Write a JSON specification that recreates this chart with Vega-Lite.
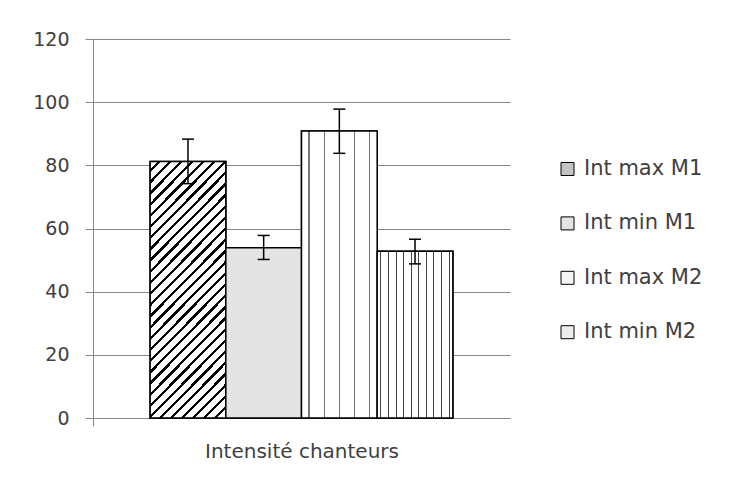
{
  "$schema": "https://vega.github.io/schema/vega-lite/v6.json",
  "width": 417,
  "height": 379,
  "autosize": {"type": "none"},
  "padding": {"left": 93, "top": 39, "right": 235, "bottom": 64},
  "background": "white",
  "config": {"view": {"stroke": null}, "font": "DejaVu Sans"},
  "data": {
    "values": [
      {"cat": "Intensité chanteurs", "series": "Int max M1", "value": 81.2, "lo": 74.2, "hi": 88.3},
      {"cat": "Intensité chanteurs", "series": "Int min M1", "value": 53.9, "lo": 50.2, "hi": 57.8},
      {"cat": "Intensité chanteurs", "series": "Int max M2", "value": 90.9, "lo": 83.8, "hi": 97.8},
      {"cat": "Intensité chanteurs", "series": "Int min M2", "value": 52.8, "lo": 48.8, "hi": 56.6}
    ]
  },
  "encoding": {
    "x": {
      "field": "cat",
      "type": "nominal",
      "scale": {"paddingInner": 0, "paddingOuter": 0},
      "axis": {
        "title": "Intensité chanteurs",
        "labels": false,
        "ticks": true,
        "bandPosition": 0,
        "tickSize": 8,
        "tickColor": "#868686",
        "domainColor": "#868686",
        "titleFont": "DejaVu Sans",
        "titleFontSize": 20,
        "titleFontWeight": "normal",
        "titleColor": "#404040",
        "titlePadding": 15
      }
    },
    "xOffset": {
      "field": "series",
      "type": "nominal",
      "sort": ["Int max M1", "Int min M1", "Int max M2", "Int min M2"],
      "scale": {"paddingInner": 0, "paddingOuter": 0.755}
    },
    "y": {
      "field": "value",
      "type": "quantitative",
      "scale": {"domain": [0, 120], "nice": false},
      "axis": {
        "title": null,
        "values": [0, 20, 40, 60, 80, 100, 120],
        "grid": true,
        "gridColor": "#868686",
        "domainColor": "#868686",
        "tickColor": "#868686",
        "tickSize": 8,
        "labelPadding": 16,
        "labelFont": "DejaVu Sans",
        "labelFontSize": 19,
        "labelColor": "#404040"
      }
    }
  },
  "layer": [
    {
      "mark": {"type": "bar", "stroke": "black", "strokeWidth": 1.5},
      "encoding": {
        "fill": {
          "field": "series",
          "type": "nominal",
          "sort": ["Int max M1", "Int min M1", "Int max M2", "Int min M2"],
          "scale": {
            "domain": ["Int max M1", "Int min M1", "Int max M2", "Int min M2"],
            "range": ["#c4c4c4", "#e4e4e4", "#f6f6f6", "#eeeeee"]
          },
          "legend": {
            "title": null,
            "orient": "none",
            "legendX": 464,
            "legendY": 119.5,
            "padding": 0,
            "symbolType": "square",
            "symbolSize": 169,
            "symbolStrokeColor": "black",
            "symbolStrokeWidth": 1,
            "symbolOpacity": 1,
            "labelFont": "DejaVu Sans",
            "labelFontSize": 21,
            "labelColor": "#404040",
            "labelOffset": 6,
            "rowPadding": 32.4
          }
        }
      }
    },
    {
      "mark": {"type": "bar", "stroke": "black", "strokeWidth": 1.5},
      "encoding": {
        "fill": {
          "condition": [
            {"test": "datum.series === 'Int max M1'", "value": {"gradient": "linear", "x1": 0, "y1": 0, "x2": 0.36, "y2": 1.2, "stops": [
                {"offset": 0, "color": "#fff"}, {"offset": 0.0233, "color": "#fff"}, {"offset": 0.0233, "color": "#000"}, {"offset": 0.0333, "color": "#000"},
                {"offset": 0.0333, "color": "#fff"}, {"offset": 0.0567, "color": "#fff"}, {"offset": 0.0567, "color": "#000"}, {"offset": 0.0667, "color": "#000"},
                {"offset": 0.0667, "color": "#fff"}, {"offset": 0.09, "color": "#fff"}, {"offset": 0.09, "color": "#000"}, {"offset": 0.1, "color": "#000"},
                {"offset": 0.1, "color": "#fff"}, {"offset": 0.1233, "color": "#fff"}, {"offset": 0.1233, "color": "#000"}, {"offset": 0.1333, "color": "#000"},
                {"offset": 0.1333, "color": "#fff"}, {"offset": 0.1567, "color": "#fff"}, {"offset": 0.1567, "color": "#000"}, {"offset": 0.1667, "color": "#000"},
                {"offset": 0.1667, "color": "#fff"}, {"offset": 0.19, "color": "#fff"}, {"offset": 0.19, "color": "#000"}, {"offset": 0.2, "color": "#000"},
                {"offset": 0.2, "color": "#fff"}, {"offset": 0.2233, "color": "#fff"}, {"offset": 0.2233, "color": "#000"}, {"offset": 0.2333, "color": "#000"},
                {"offset": 0.2333, "color": "#fff"}, {"offset": 0.2567, "color": "#fff"}, {"offset": 0.2567, "color": "#000"}, {"offset": 0.2667, "color": "#000"},
                {"offset": 0.2667, "color": "#fff"}, {"offset": 0.29, "color": "#fff"}, {"offset": 0.29, "color": "#000"}, {"offset": 0.3, "color": "#000"},
                {"offset": 0.3, "color": "#fff"}, {"offset": 0.3233, "color": "#fff"}, {"offset": 0.3233, "color": "#000"}, {"offset": 0.3333, "color": "#000"},
                {"offset": 0.3333, "color": "#fff"}, {"offset": 0.3567, "color": "#fff"}, {"offset": 0.3567, "color": "#000"}, {"offset": 0.3667, "color": "#000"},
                {"offset": 0.3667, "color": "#fff"}, {"offset": 0.39, "color": "#fff"}, {"offset": 0.39, "color": "#000"}, {"offset": 0.4, "color": "#000"},
                {"offset": 0.4, "color": "#fff"}, {"offset": 0.4233, "color": "#fff"}, {"offset": 0.4233, "color": "#000"}, {"offset": 0.4333, "color": "#000"},
                {"offset": 0.4333, "color": "#fff"}, {"offset": 0.4567, "color": "#fff"}, {"offset": 0.4567, "color": "#000"}, {"offset": 0.4667, "color": "#000"},
                {"offset": 0.4667, "color": "#fff"}, {"offset": 0.49, "color": "#fff"}, {"offset": 0.49, "color": "#000"}, {"offset": 0.5, "color": "#000"},
                {"offset": 0.5, "color": "#fff"}, {"offset": 0.5233, "color": "#fff"}, {"offset": 0.5233, "color": "#000"}, {"offset": 0.5333, "color": "#000"},
                {"offset": 0.5333, "color": "#fff"}, {"offset": 0.5567, "color": "#fff"}, {"offset": 0.5567, "color": "#000"}, {"offset": 0.5667, "color": "#000"},
                {"offset": 0.5667, "color": "#fff"}, {"offset": 0.59, "color": "#fff"}, {"offset": 0.59, "color": "#000"}, {"offset": 0.6, "color": "#000"},
                {"offset": 0.6, "color": "#fff"}, {"offset": 0.6233, "color": "#fff"}, {"offset": 0.6233, "color": "#000"}, {"offset": 0.6333, "color": "#000"},
                {"offset": 0.6333, "color": "#fff"}, {"offset": 0.6567, "color": "#fff"}, {"offset": 0.6567, "color": "#000"}, {"offset": 0.6667, "color": "#000"},
                {"offset": 0.6667, "color": "#fff"}, {"offset": 0.69, "color": "#fff"}, {"offset": 0.69, "color": "#000"}, {"offset": 0.7, "color": "#000"},
                {"offset": 0.7, "color": "#fff"}, {"offset": 0.7233, "color": "#fff"}, {"offset": 0.7233, "color": "#000"}, {"offset": 0.7333, "color": "#000"},
                {"offset": 0.7333, "color": "#fff"}, {"offset": 0.7567, "color": "#fff"}, {"offset": 0.7567, "color": "#000"}, {"offset": 0.7667, "color": "#000"},
                {"offset": 0.7667, "color": "#fff"}, {"offset": 0.79, "color": "#fff"}, {"offset": 0.79, "color": "#000"}, {"offset": 0.8, "color": "#000"},
                {"offset": 0.8, "color": "#fff"}, {"offset": 0.8233, "color": "#fff"}, {"offset": 0.8233, "color": "#000"}, {"offset": 0.8333, "color": "#000"},
                {"offset": 0.8333, "color": "#fff"}, {"offset": 0.8567, "color": "#fff"}, {"offset": 0.8567, "color": "#000"}, {"offset": 0.8667, "color": "#000"},
                {"offset": 0.8667, "color": "#fff"}, {"offset": 0.89, "color": "#fff"}, {"offset": 0.89, "color": "#000"}, {"offset": 0.9, "color": "#000"},
                {"offset": 0.9, "color": "#fff"}, {"offset": 0.9233, "color": "#fff"}, {"offset": 0.9233, "color": "#000"}, {"offset": 0.9333, "color": "#000"},
                {"offset": 0.9333, "color": "#fff"}, {"offset": 0.9567, "color": "#fff"}, {"offset": 0.9567, "color": "#000"}, {"offset": 0.9667, "color": "#000"},
                {"offset": 0.9667, "color": "#fff"}, {"offset": 0.99, "color": "#fff"}, {"offset": 0.99, "color": "#000"}, {"offset": 1, "color": "#000"}
              ]}},
            {"test": "datum.series === 'Int max M2'", "value": {"gradient": "linear", "x1": 0, "y1": 0, "x2": 1, "y2": 0, "stops": [
                {"offset": 0, "color": "#fff"}, {"offset": 0.092, "color": "#fff"}, {"offset": 0.092, "color": "#777"}, {"offset": 0.108, "color": "#777"},
                {"offset": 0.108, "color": "#fff"}, {"offset": 0.292, "color": "#fff"}, {"offset": 0.292, "color": "#777"}, {"offset": 0.308, "color": "#777"},
                {"offset": 0.308, "color": "#fff"}, {"offset": 0.492, "color": "#fff"}, {"offset": 0.492, "color": "#777"}, {"offset": 0.508, "color": "#777"},
                {"offset": 0.508, "color": "#fff"}, {"offset": 0.692, "color": "#fff"}, {"offset": 0.692, "color": "#777"}, {"offset": 0.708, "color": "#777"},
                {"offset": 0.708, "color": "#fff"}, {"offset": 0.892, "color": "#fff"}, {"offset": 0.892, "color": "#777"}, {"offset": 0.908, "color": "#777"},
                {"offset": 0.908, "color": "#fff"}, {"offset": 1, "color": "#fff"}
              ]}},
            {"test": "datum.series === 'Int min M2'", "value": {"gradient": "linear", "x1": 0, "y1": 0, "x2": 1, "y2": 0, "stops": [
                {"offset": 0, "color": "#fff"}, {"offset": 0.043, "color": "#fff"}, {"offset": 0.043, "color": "#444"}, {"offset": 0.057, "color": "#444"},
                {"offset": 0.057, "color": "#fff"}, {"offset": 0.143, "color": "#fff"}, {"offset": 0.143, "color": "#444"}, {"offset": 0.157, "color": "#444"},
                {"offset": 0.157, "color": "#fff"}, {"offset": 0.243, "color": "#fff"}, {"offset": 0.243, "color": "#444"}, {"offset": 0.257, "color": "#444"},
                {"offset": 0.257, "color": "#fff"}, {"offset": 0.343, "color": "#fff"}, {"offset": 0.343, "color": "#444"}, {"offset": 0.357, "color": "#444"},
                {"offset": 0.357, "color": "#fff"}, {"offset": 0.443, "color": "#fff"}, {"offset": 0.443, "color": "#444"}, {"offset": 0.457, "color": "#444"},
                {"offset": 0.457, "color": "#fff"}, {"offset": 0.543, "color": "#fff"}, {"offset": 0.543, "color": "#444"}, {"offset": 0.557, "color": "#444"},
                {"offset": 0.557, "color": "#fff"}, {"offset": 0.643, "color": "#fff"}, {"offset": 0.643, "color": "#444"}, {"offset": 0.657, "color": "#444"},
                {"offset": 0.657, "color": "#fff"}, {"offset": 0.743, "color": "#fff"}, {"offset": 0.743, "color": "#444"}, {"offset": 0.757, "color": "#444"},
                {"offset": 0.757, "color": "#fff"}, {"offset": 0.843, "color": "#fff"}, {"offset": 0.843, "color": "#444"}, {"offset": 0.857, "color": "#444"},
                {"offset": 0.857, "color": "#fff"}, {"offset": 0.943, "color": "#fff"}, {"offset": 0.943, "color": "#444"}, {"offset": 0.957, "color": "#444"},
                {"offset": 0.957, "color": "#fff"}, {"offset": 1, "color": "#fff"}
              ]}}
          ],
          "value": "#e4e4e4"
        }
      }
    },
    {
      "mark": {"type": "rule", "color": "black", "strokeWidth": 1.5},
      "encoding": {
        "y": {"field": "lo", "type": "quantitative"},
        "y2": {"field": "hi"}
      }
    },
    {
      "mark": {"type": "tick", "color": "black", "size": 12, "thickness": 1.5, "opacity": 1},
      "encoding": {"y": {"field": "hi", "type": "quantitative"}}
    },
    {
      "mark": {"type": "tick", "color": "black", "size": 12, "thickness": 1.5, "opacity": 1},
      "encoding": {"y": {"field": "lo", "type": "quantitative"}}
    }
  ]
}
